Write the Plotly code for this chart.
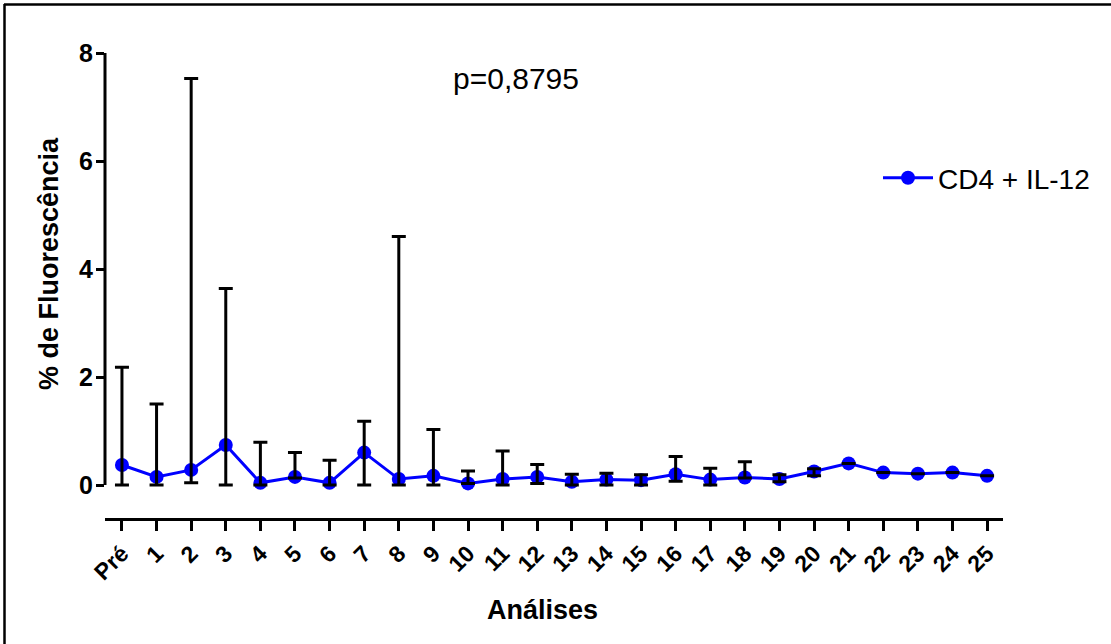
import plotly.graph_objects as go

# Sessões de análise
categorias = ["Pré"] + [str(i) for i in range(1, 26)]

# Valor central de cada análise (% de fluorescência)
valores = [0.37, 0.15, 0.28, 0.74, 0.04, 0.15, 0.04, 0.60, 0.11, 0.17,
           0.03, 0.11, 0.15, 0.06, 0.10, 0.09, 0.20, 0.10, 0.14, 0.11,
           0.25, 0.40, 0.23, 0.21, 0.23, 0.17]

# Limites superior e inferior das barras de erro (None = sem barra)
limite_sup = [2.18, 1.50, 7.53, 3.64, 0.79, 0.60, 0.46, 1.18, 4.60, 1.03,
              0.26, 0.63, 0.38, 0.20, 0.22, 0.19, 0.53, 0.31, 0.43, 0.19,
              0.30, None, None, None, None, None]
limite_inf = [0.00, 0.00, 0.04, 0.00, 0.00, 0.13, 0.00, 0.00, 0.00, 0.00,
              0.03, 0.00, 0.03, 0.00, 0.00, 0.00, 0.07, 0.00, 0.13, 0.06,
              0.17, None, None, None, None, None]

y_ticks = [0, 2, 4, 6, 8]
p_valor = "p=0,8795"

x = list(range(len(categorias)))
err_plus = [(s - v) if s is not None else 0 for s, v in zip(limite_sup, valores)]
err_minus = [(v - i) if i is not None else 0 for i, v in zip(limite_inf, valores)]

FONT = "Arial, Liberation Sans, sans-serif"
AZUL = "#0000FF"

fig = go.Figure()

fig.add_trace(go.Scatter(
    x=x, y=valores, mode="lines+markers", name="CD4 + IL-12",
    line=dict(color=AZUL, width=3),
    marker=dict(color=AZUL, size=14),
))

# Barras de erro desenhadas por cima dos marcadores
fig.add_trace(go.Scatter(
    x=x, y=valores, mode="markers", showlegend=False, hoverinfo="skip",
    marker=dict(size=1, opacity=0),
    error_y=dict(type="data", symmetric=False, array=err_plus,
                 arrayminus=err_minus, color="black", thickness=3, width=7),
))

# Geometria da área do gráfico (em pixels)
L, R, T, B = 105, 1003, 53, 518
W, H = 1111, 644

def px_x(p):
    return (p - L) / (R - L)

def px_y(p):
    return (B - p) / (B - T)

fig.update_layout(
    width=W, height=H,
    margin=dict(l=L, r=W - R, t=T, b=H - B, pad=0),
    paper_bgcolor="white", plot_bgcolor="white",
    font=dict(family=FONT, color="black", size=22),
    showlegend=True,
    legend=dict(x=px_x(878), y=px_y(178), xanchor="left", yanchor="middle",
                itemwidth=50,
                font=dict(size=28, family=FONT, color="black"),
                bgcolor="rgba(0,0,0,0)"),
    xaxis=dict(
        range=[-0.49, 25.46], tickmode="array", tickvals=x,
        ticktext=[f"<b>{c}</b>" for c in categorias],
        tickangle=-45, showgrid=False, zeroline=False,
        showline=True, linecolor="black", linewidth=3,
        ticks="outside", ticklen=10, tickwidth=3, tickcolor="black",
        tickfont=dict(size=23, family=FONT, color="black"),
        automargin=False,
    ),
    yaxis=dict(
        range=[-0.611, 8], tickmode="array", tickvals=y_ticks,
        ticktext=[f"<b>{v}</b>" for v in y_ticks],
        showgrid=False, zeroline=False, showline=False,
        ticks="outside", ticklen=8, tickwidth=3, tickcolor="black",
        tickfont=dict(size=25, family=FONT, color="black"),
        ticklabelstandoff=-2,
        automargin=False,
    ),
)

# Linha do eixo Y apenas entre 0 e 8
fig.add_shape(type="line", xref="paper", yref="y", x0=0, x1=0,
              y0=0, y1=8, line=dict(color="black", width=3))

# Moldura (bordas superior e esquerda)
fig.add_shape(type="line", xref="paper", yref="paper",
              x0=px_x(4), x1=px_x(1111), y0=px_y(4.5), y1=px_y(4.5),
              line=dict(color="black", width=2.5))
fig.add_shape(type="line", xref="paper", yref="paper",
              x0=px_x(4.5), x1=px_x(4.5), y0=px_y(4), y1=px_y(644),
              line=dict(color="black", width=2.5))

# Títulos dos eixos
fig.add_annotation(text="<b>% de Fluorescência</b>", textangle=-90,
                   xref="paper", yref="paper", x=px_x(32), y=px_y(264),
                   showarrow=False, font=dict(size=27, family=FONT, color="black"))
fig.add_annotation(text="<b>Análises</b>",
                   xref="paper", yref="paper", x=px_x(542), y=px_y(593),
                   yanchor="top",
                   showarrow=False, font=dict(size=27, family=FONT, color="black"))

# Valor de p
fig.add_annotation(text=p_valor, xref="paper", yref="paper",
                   x=px_x(516), y=px_y(60), showarrow=False,
                   font=dict(size=30, family=FONT, color="black"))

fig.write_html("out.html")
